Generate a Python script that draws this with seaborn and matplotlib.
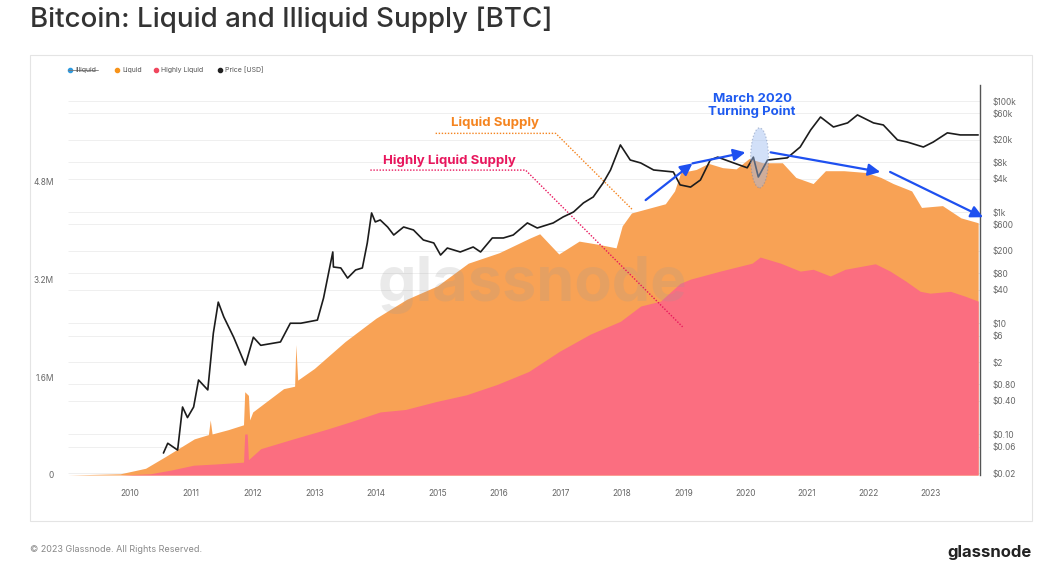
import numpy as np
import pandas as pd
import seaborn as sns
import matplotlib.pyplot as plt
from matplotlib.patches import Ellipse, Rectangle
from matplotlib.lines import Line2D
from matplotlib.ticker import FixedLocator, FixedFormatter
from matplotlib.transforms import blended_transform_factory

sns.set_theme(style="white")
plt.rcParams['font.family'] = ['Inter', 'DejaVu Sans']

# supply series (millions of BTC)
hl_years = [2009.0, 2009.85, 2010.34, 2010.5, 2010.67, 2011.04, 2011.4, 2011.85, 2011.87,
            2011.91, 2011.93, 2012.13, 2012.66, 2013.21, 2013.59, 2014.07, 2014.48, 2014.98,
            2015.47, 2015.97, 2016.48, 2016.98, 2017.48, 2017.97, 2018.3, 2018.62, 2018.94,
            2019.11, 2019.59, 2020.11, 2020.24, 2020.57, 2020.89, 2021.1, 2021.38, 2021.62,
            2022.11, 2022.35, 2022.6, 2022.84, 2023.0, 2023.33, 2023.57, 2023.78]
highly_liquid = [0, 0, 0.02, 0.05, 0.08, 0.16, 0.18, 0.21, 0.67,
                 0.67, 0.25, 0.43, 0.59, 0.75, 0.87, 1.03, 1.07, 1.20,
                 1.31, 1.48, 1.69, 2.02, 2.30, 2.51, 2.76, 2.84, 3.13,
                 3.20, 3.33, 3.46, 3.56, 3.46, 3.33, 3.36, 3.25, 3.36,
                 3.45, 3.33, 3.17, 3.00, 2.97, 3.00, 2.92, 2.84]

liq_years = [2009.0, 2009.85, 2010.26, 2010.58, 2010.84, 2011.05, 2011.28, 2011.31, 2011.34,
             2011.6, 2011.85, 2011.87, 2011.93, 2011.95, 2012.0, 2012.5, 2012.68, 2012.70,
             2012.73, 2013.0, 2013.5, 2014.0, 2014.5, 2015.0, 2015.5, 2016.0, 2016.5, 2016.66,
             2016.97, 2017.3, 2017.6, 2017.9, 2018.0, 2018.15, 2018.7, 2018.85, 2018.95, 2019.2,
             2019.4, 2019.63, 2019.85, 2020.06, 2020.28, 2020.6, 2020.82, 2021.1, 2021.3, 2021.6,
             2021.97, 2022.2, 2022.4, 2022.7, 2022.86, 2023.2, 2023.5, 2023.78]
liquid_total = [0, 0.02, 0.11, 0.30, 0.46, 0.59, 0.66, 0.90, 0.67,
                0.74, 0.82, 1.36, 1.30, 0.90, 1.03, 1.41, 1.45, 2.13,
                1.55, 1.74, 2.18, 2.56, 2.87, 3.09, 3.46, 3.63, 3.87, 3.94,
                3.61, 3.82, 3.77, 3.71, 4.07, 4.28, 4.43, 4.64, 4.94, 4.99,
                5.09, 5.02, 5.00, 5.17, 5.10, 5.10, 4.86, 4.76, 4.97, 4.97,
                4.94, 4.86, 4.76, 4.64, 4.37, 4.40, 4.20, 4.12]

# price (USD, log axis)
price_years = [2010.55, 2010.62, 2010.78, 2010.86, 2010.94, 2011.04, 2011.12, 2011.27, 2011.36,
               2011.44, 2011.53, 2011.69, 2011.88, 2012.01, 2012.13, 2012.45, 2012.61, 2012.78,
               2013.05, 2013.15, 2013.30, 2013.31, 2013.43, 2013.54, 2013.67, 2013.78, 2013.86,
               2013.93, 2013.99, 2014.07, 2014.19, 2014.29, 2014.45, 2014.61, 2014.77, 2014.94,
               2015.05, 2015.16, 2015.37, 2015.58, 2015.70, 2015.89, 2016.07, 2016.23, 2016.46,
               2016.62, 2016.88, 2017.04, 2017.21, 2017.37, 2017.53, 2017.69, 2017.81, 2017.97,
               2018.13, 2018.30, 2018.51, 2018.83, 2018.94, 2019.11, 2019.27, 2019.43, 2019.55,
               2019.81, 2020.03, 2020.13, 2020.21, 2020.36, 2020.68, 2020.89, 2021.06, 2021.22,
               2021.43, 2021.66, 2021.82, 2022.08, 2022.24, 2022.47, 2022.63, 2022.89, 2023.05,
               2023.28, 2023.49, 2023.78]
price_usd = [0.046, 0.069, 0.052, 0.31, 0.20, 0.31, 0.95, 0.63, 6.6,
             24, 13, 5.6, 1.77, 5.6, 4.0, 4.6, 10, 10,
             11.4, 28.5, 192, 103, 99, 65, 91, 99, 279,
             968, 667, 724, 541, 388, 541, 478, 316, 279,
             169, 226, 192, 236, 192, 343, 343, 388, 640,
             519, 640, 820, 1009, 1466, 1880, 3360, 5750, 16250,
             8700, 7700, 5750, 5300, 3100, 2830, 3800, 8700, 9800,
             7700, 6300, 9800, 4300, 8700, 9500, 14900, 30200, 51700,
             34200, 40500, 56400, 40500, 37200, 20000, 18300, 14900, 18300,
             26800, 24600, 24600]

year_ticks = list(range(2010, 2024))
supply_ticks = [0, 1.6, 3.2, 4.8]
supply_labels = ["0", "1.6M", "3.2M", "4.8M"]
price_ticks = [0.02, 0.06, 0.10, 0.40, 0.80, 2, 6, 10, 40, 80, 200, 600, 1000,
               4000, 8000, 20000, 60000, 100000]
price_labels = ["$0.02", "$0.06", "$0.10", "$0.40", "$0.80", "$2", "$6", "$10", "$40",
                "$80", "$200", "$600", "$1k", "$4k", "$8k", "$20k", "$60k", "$100k"]

ORANGE = "#f8a255"
PINK = "#fb6e80"

W, H = 1041, 580
fig = plt.figure(figsize=(W / 100, H / 100), dpi=100)

# card border
fig.add_artist(Rectangle((30 / W, 1 - 521 / H), 1002 / W, 466 / H, transform=fig.transFigure,
                         fill=False, edgecolor="#e4e4e4", linewidth=0.8))

ax = fig.add_axes([68 / W, 1 - 475 / H, 912 / W, 390 / H])
ax2 = ax.twinx()

ax.fill_between(liq_years, 0, liquid_total, color=ORANGE, linewidth=0, zorder=2)
ax.fill_between(hl_years, 0, highly_liquid, color=PINK, linewidth=0, zorder=3)
ax.set_xlim(2009.0, 2023.81)
ax.set_ylim(0, 6.37)

ax2.set_yscale("log")
sns.lineplot(x=price_years, y=price_usd, ax=ax2, color="#1c1c1c", linewidth=1.2, zorder=5)
ax2.set_ylim(0.0185, 1.95e5)

# faint gridlines behind the areas, at the price ticks
ax.hlines(price_ticks, 0, 1, transform=blended_transform_factory(ax.transAxes, ax2.transData),
          color="#efefef", linewidth=0.7, zorder=1)

# ticks
ax.set_xticks(year_ticks)
ax.set_xticklabels([str(y) for y in year_ticks])
ax.set_yticks(supply_ticks)
ax.set_yticklabels(supply_labels)
ax.tick_params(axis="x", length=0, pad=10, labelsize=6, labelcolor="#666666")
ax.tick_params(axis="y", length=0, pad=10, labelsize=6, labelcolor="#666666")
ax2.yaxis.set_major_locator(FixedLocator(price_ticks))
ax2.yaxis.set_major_formatter(FixedFormatter(price_labels))
ax2.yaxis.set_minor_locator(FixedLocator([]))
ax2.tick_params(axis="y", length=0, pad=9, labelsize=6, labelcolor="#666666")
for lab in ax2.get_yticklabels():
    lab.set_horizontalalignment("left")
ax.set_zorder(0)
ax2.set_zorder(1)
ax2.patch.set_visible(False)

for a in (ax, ax2):
    for s in ["top", "left", "bottom"]:
        a.spines[s].set_visible(False)
ax.spines["right"].set_visible(False)
ax2.spines["right"].set_color("#555555")
ax2.spines["right"].set_linewidth(1.0)
ax2.set_ylabel("")

# watermark
ax.text(2016.55, 3.1, "glassnode", fontsize=44, fontweight="bold", color="#999999",
        alpha=0.2, ha="center", va="center", zorder=4)

T = ax.transData
# annotations
ax2.text(2015.93, 5.76, "Liquid Supply", transform=T, color="#f5841f", fontsize=9.5,
         fontweight="bold", ha="center", va="center")
ax2.plot([2014.97, 2016.92, 2018.17], [5.58, 5.58, 4.33], transform=T, color="#f5841f",
         linestyle=(0, (1, 1.2)), linewidth=1.0)
ax2.text(2015.2, 5.14, "Highly Liquid Supply", transform=T, color="#e8175d", fontsize=9.5,
         fontweight="bold", ha="center", va="center")
ax2.plot([2013.91, 2016.43, 2018.98], [4.98, 4.98, 2.42], transform=T, color="#e8175d",
         linestyle=(0, (1, 1.2)), linewidth=1.0)
ax2.text(2020.11, 6.03, "March 2020\nTurning Point", transform=T, color="#1f5bf0", fontsize=9.5,
         fontweight="bold", ha="center", va="center", linespacing=1.05)
ax2.add_patch(Ellipse((2020.23, 5.18), 0.29, 0.98, transform=T, facecolor="#9dbcf0",
                      alpha=0.45, edgecolor="#6a7fa8", linestyle=":", linewidth=0.9, zorder=6))

arrows = [((2018.38, 4.49), (2019.14, 5.09)),
          ((2019.14, 5.09), (2020.0, 5.27)),
          ((2020.41, 5.27), (2022.19, 4.95)),
          ((2022.35, 4.95), (2023.86, 4.21))]
for start, end in arrows:
    ax2.annotate("", xy=end, xytext=start, xycoords=T, textcoords=T,
                 arrowprops=dict(arrowstyle="-|>,head_length=0.6,head_width=0.3",
                                 color="#1e50f0", linewidth=1.6, shrinkA=0, shrinkB=0),
                 zorder=7, annotation_clip=False)

# legend
legend_items = [("#2f9be0", "Illiquid", 70), ("#f7931a", "Liquid", 117),
                ("#f0475e", "Highly Liquid", 156), ("#222222", "Price [USD]", 220)]
for col, txt, px in legend_items:
    fig.add_artist(Line2D([px / W], [1 - 70 / H], marker="o", markersize=3, color=col,
                          linestyle="none", transform=fig.transFigure))
    fig.text((px + 5) / W, 1 - 70 / H, txt, fontsize=5, color="#555555", va="center")
fig.add_artist(Line2D([68 / W, 98 / W], [1 - 70 / H, 1 - 70 / H], color="#777777",
                      linewidth=0.6, transform=fig.transFigure))

# title and footer
fig.text(30 / W, 1 - 20 / H, "Bitcoin: Liquid and Illiquid Supply [BTC]", fontsize=20,
         fontweight="medium", color="#333333", va="center", ha="left")
fig.text(30 / W, 1 - 550 / H, "© 2023 Glassnode. All Rights Reserved.", fontsize=6.5,
         color="#888888", va="center", ha="left")
fig.text(1032 / W, 1 - 552 / H, "glassnode", fontsize=12, fontweight="bold",
         color="#222222", va="center", ha="right")

fig.savefig("out.png", dpi=100, facecolor="white")
